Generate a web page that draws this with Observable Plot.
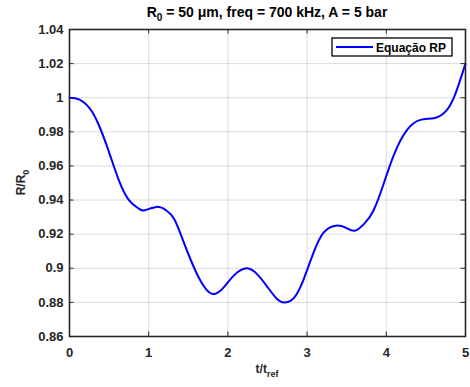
<!DOCTYPE html>
<html>
<head>
<meta charset="utf-8">
<script src="https://cdn.jsdelivr.net/npm/d3@7"></script>
<script src="https://cdn.jsdelivr.net/npm/@observablehq/plot@0.6"></script>
<style>
  html, body { margin: 0; padding: 0; background: #fff; }
  #chart svg { display: block; }
</style>
</head>
<body>
<div id="chart"></div>
<script>
// Normalised bubble radius R/R0 over normalised time t/t_ref (Rayleigh–Plesset)
const tValues = [0, 0.12, 0.25, 0.37, 0.50, 0.62, 0.75, 0.875, 0.95, 1.10, 1.22, 1.32, 1.42, 1.53, 1.65,
  1.80, 1.95, 2.08, 2.24, 2.38, 2.50, 2.62, 2.72, 2.84, 2.96, 3.08, 3.21, 3.36, 3.48, 3.60, 3.72,
  3.84, 3.97, 4.10, 4.26, 4.43, 4.60, 4.75, 4.87, 5.0];
const rValues = [1.000, 0.999, 0.994, 0.984, 0.968, 0.952, 0.940, 0.935, 0.934, 0.936, 0.934, 0.929, 0.918, 0.905, 0.893,
  0.885, 0.889, 0.896, 0.900, 0.896, 0.889, 0.882, 0.880, 0.883, 0.894, 0.909, 0.921, 0.925, 0.924, 0.922, 0.926,
  0.934, 0.950, 0.967, 0.981, 0.987, 0.988, 0.992, 1.002, 1.020];

const xTicks = [0, 1, 2, 3, 4, 5];
const yTicks = [0.86, 0.88, 0.9, 0.92, 0.94, 0.96, 0.98, 1, 1.02, 1.04];
const seriesName = "Equação RP";

const data = tValues.map((t, i) => ({t, r: rValues[i]}));

const W = 470, H = 387;
const mL = 69, mR = 5, mT = 29, mB = 51;
const frameH = H - mT - mB, frameW = W - mL - mR;
const tickLen = 4.5;
const axisColor = "#262626";
const font = "'Liberation Sans', Arial, Helvetica, sans-serif";

const chart = Plot.plot({
  width: W,
  height: H,
  marginLeft: mL, marginRight: mR, marginTop: mT, marginBottom: mB,
  style: {fontFamily: font, fontSize: "13px", fontWeight: "bold", color: axisColor, background: "#fff"},
  x: {domain: [0, 5]},
  y: {domain: [0.86, 1.04]},
  marks: [
    Plot.gridX(xTicks, {stroke: "#000", strokeOpacity: 0.14, strokeWidth: 1}),
    Plot.gridY(yTicks, {stroke: "#000", strokeOpacity: 0.14, strokeWidth: 1}),
    // inward tick marks on all four sides
    Plot.tickX(xTicks, {x: d => d, insetTop: frameH - tickLen, stroke: axisColor, strokeWidth: 1}),
    Plot.tickX(xTicks, {x: d => d, insetBottom: frameH - tickLen, stroke: axisColor, strokeWidth: 1}),
    Plot.tickY(yTicks, {y: d => d, insetRight: frameW - tickLen, stroke: axisColor, strokeWidth: 1}),
    Plot.tickY(yTicks, {y: d => d, insetLeft: frameW - tickLen, stroke: axisColor, strokeWidth: 1}),
    Plot.axisX(xTicks, {tickSize: 0, tickPadding: 11, label: null, tickFormat: String}),
    Plot.axisY(yTicks, {tickSize: 0, tickPadding: 6, label: null, tickFormat: String}),
    Plot.line(data, {x: "t", y: "r", stroke: "#0000ff", strokeWidth: 2, curve: "natural"}),
    Plot.frame({stroke: axisColor, strokeWidth: 1.6})
  ]
});

const svg = d3.select(chart);

// Title with subscript
const title = svg.append("text")
  .attr("x", mL + frameW / 2).attr("y", 17)
  .attr("text-anchor", "middle")
  .style("font-family", font).style("font-size", "14px").style("font-weight", "bold")
  .attr("fill", "#000");
title.append("tspan").text("R");
title.append("tspan").attr("dy", 4).style("font-size", "10px").text("0");
title.append("tspan").attr("dy", -4).text(" = 50 μm, freq = 700 kHz, A = 5 bar");

// x-axis label
const xl = svg.append("text")
  .attr("x", mL + frameW / 2).attr("y", 373)
  .attr("text-anchor", "middle")
  .style("font-family", font).style("font-size", "12px").style("font-weight", "bold")
  .attr("fill", axisColor);
xl.append("tspan").text("t/t");
xl.append("tspan").attr("dy", 4).style("font-size", "9px").text("ref");

// y-axis label
const yl = svg.append("text")
  .attr("transform", `translate(25,${mT + frameH / 2}) rotate(-90)`)
  .attr("text-anchor", "middle")
  .style("font-family", font).style("font-size", "12px").style("font-weight", "bold")
  .attr("fill", axisColor);
yl.append("tspan").text("R/R");
yl.append("tspan").attr("dy", 4).style("font-size", "9px").text("0");

// Legend box in the upper-right corner of the plot area
const lg = svg.append("g").attr("transform", `translate(${W - mR - 133},${mT + 9})`);
lg.append("rect").attr("width", 120).attr("height", 18)
  .attr("fill", "#fff").attr("stroke", "#000").attr("stroke-width", 1.3);
lg.append("line").attr("x1", 4).attr("x2", 41).attr("y1", 9).attr("y2", 9)
  .attr("stroke", "#0000ff").attr("stroke-width", 2);
lg.append("text").attr("x", 44).attr("y", 13.5)
  .attr("text-anchor", "start")
  .style("font-family", font).style("font-size", "12px").style("font-weight", "bold")
  .attr("fill", "#000").text(seriesName);

document.getElementById("chart").appendChild(chart);
</script>
</body>
</html>
